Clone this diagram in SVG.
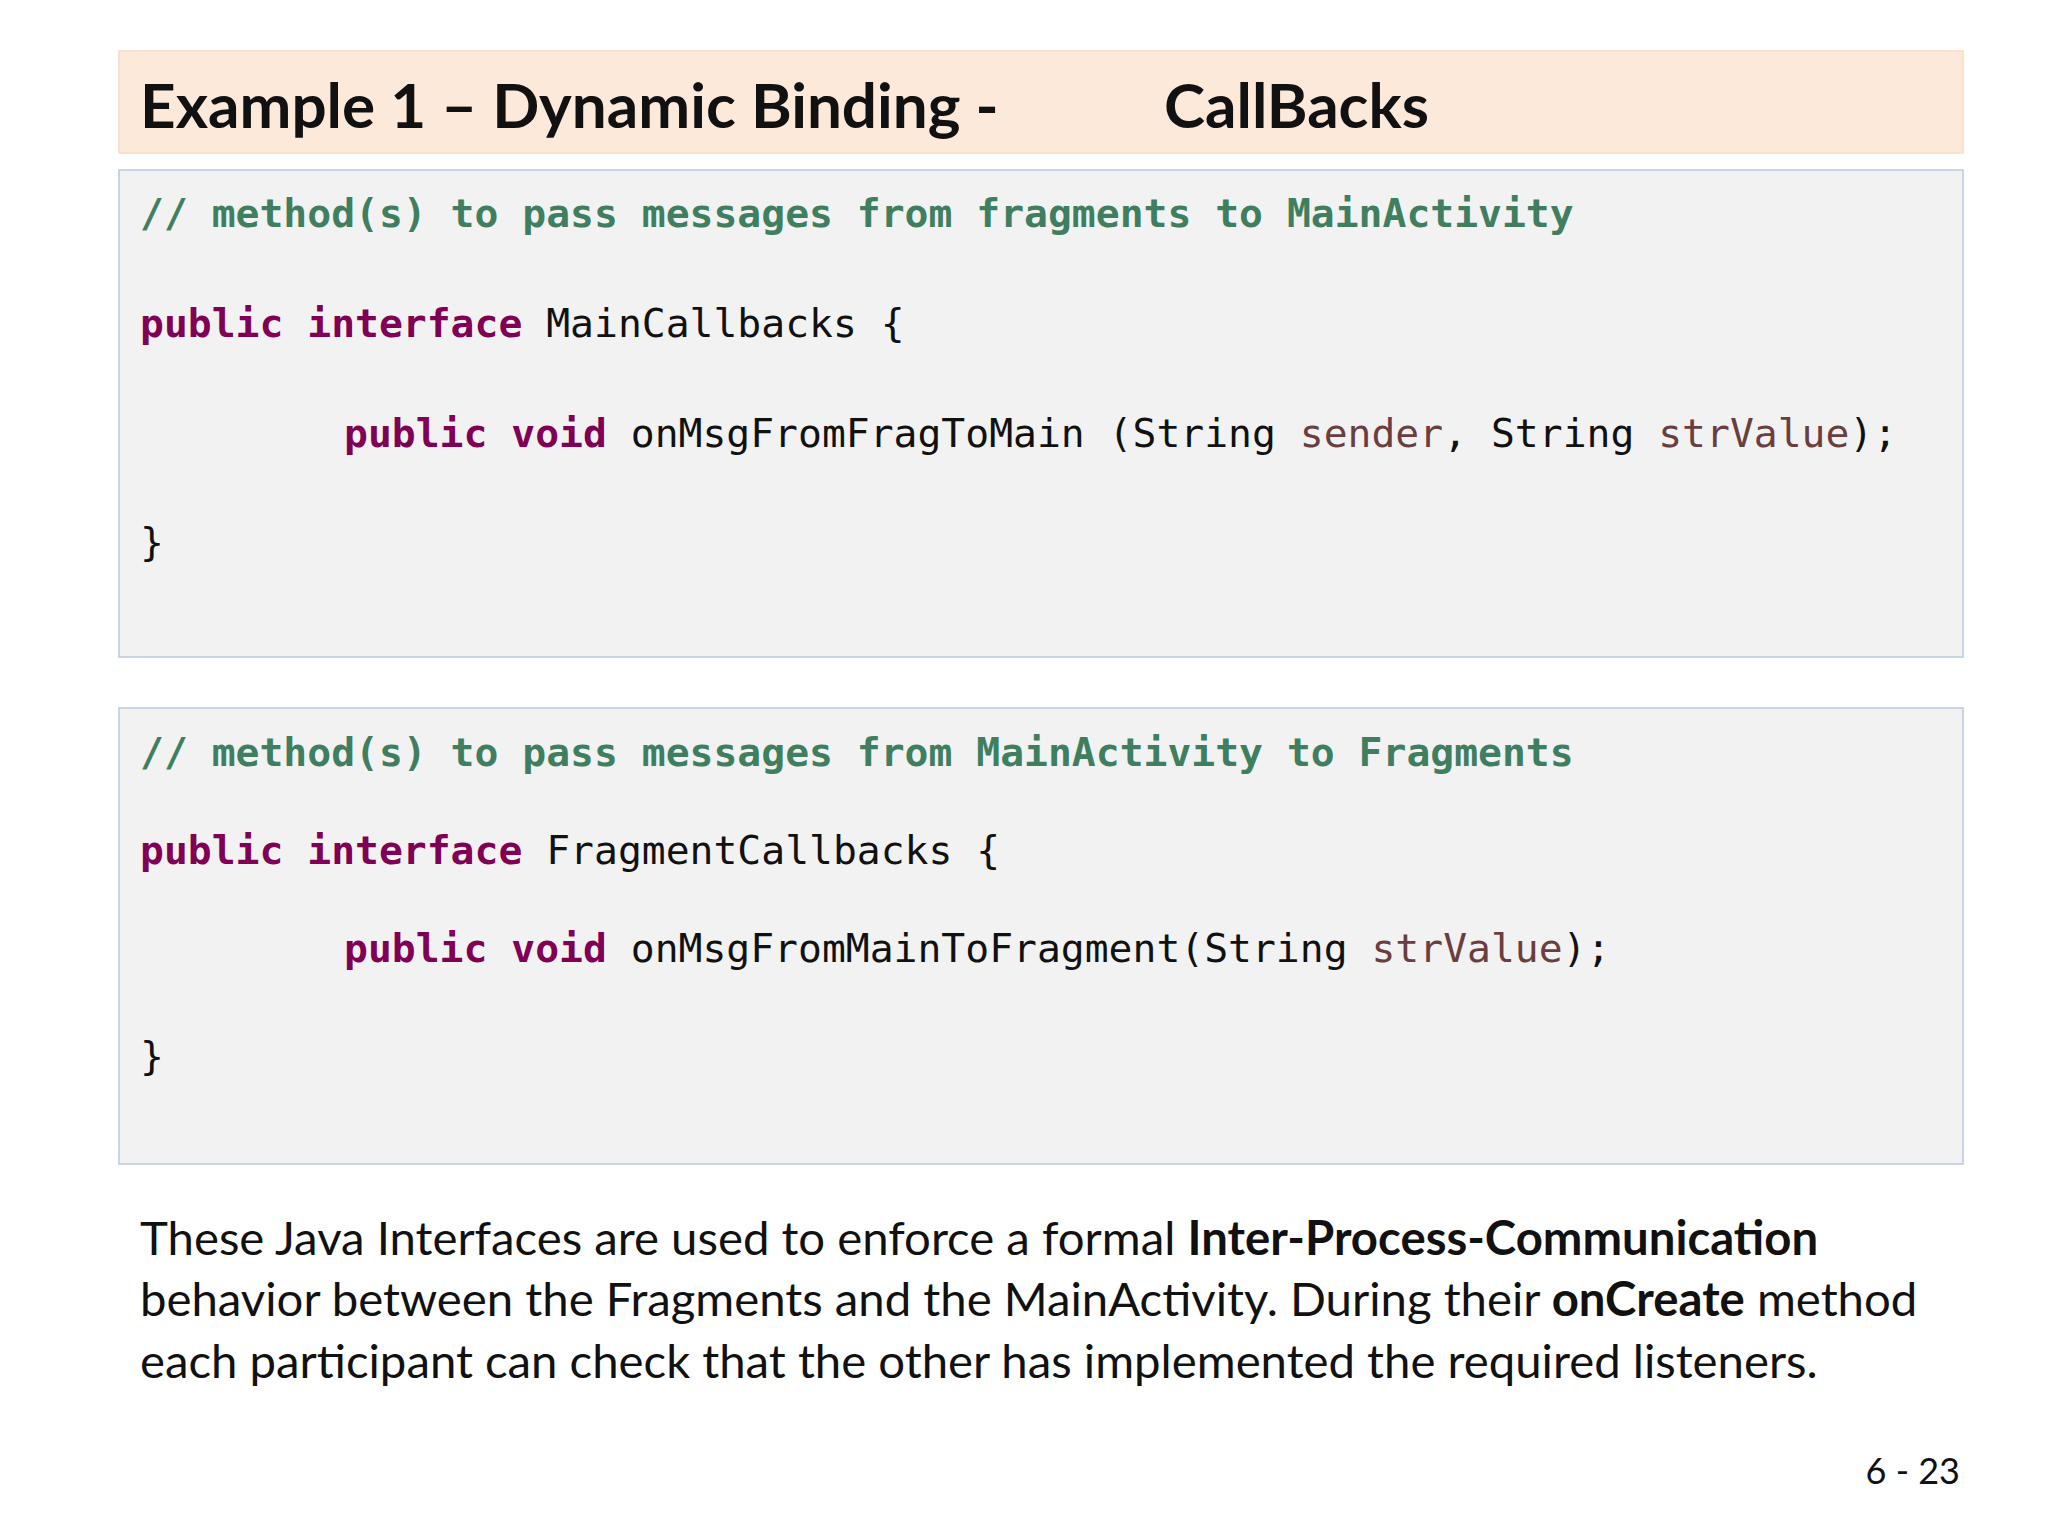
<svg xmlns="http://www.w3.org/2000/svg" width="2048" height="1536" viewBox="0 0 2048 1536">
<style>
.code{font-family:"DejaVu Sans Mono","Liberation Mono",monospace;font-size:39.7px;fill:#111}
.c{fill:#3f7f5f;font-weight:bold}
.k{fill:#7f0055;font-weight:bold}
.p{fill:#6a3e3e}
.box{fill:#f2f2f2;stroke:#b9c9dd;stroke-width:1.5}
.txt{font-family:Lato,"Liberation Sans",sans-serif;font-size:47.3px;fill:#111}
</style>
<rect width="2048" height="1536" fill="#fff"/>
<g id="title">
<rect x="119" y="51" width="1844" height="102" fill="#fde9d9" stroke="#f6dcc6" stroke-width="1.5"/>
<text x="140" y="128" font-family="Lato,'Liberation Sans',sans-serif" font-size="62" font-weight="bold" fill="#111">Example 1 – Dynamic Binding -</text>
<text x="1164" y="128" font-family="Lato,'Liberation Sans',sans-serif" font-size="62" font-weight="bold" fill="#111">CallBacks</text>
</g>
<g id="code1">
<rect class="box" x="119" y="170" width="1844" height="487"/>
<text class="code" x="140" y="227"><tspan class="c">// method(s) to pass messages from fragments to MainActivity</tspan></text>
<text class="code" x="140" y="337" xml:space="preserve"><tspan class="k">public interface</tspan> MainCallbacks {</text>
<text class="code" x="344" y="447" xml:space="preserve"><tspan class="k">public void</tspan> onMsgFromFragToMain (String <tspan class="p">sender</tspan>, String <tspan class="p">strValue</tspan>);</text>
<text class="code" x="140" y="556">}</text>
</g>
<g id="code2">
<rect class="box" x="119" y="708" width="1844" height="456"/>
<text class="code" x="140" y="766"><tspan class="c">// method(s) to pass messages from MainActivity to Fragments</tspan></text>
<text class="code" x="140" y="864" xml:space="preserve"><tspan class="k">public interface</tspan> FragmentCallbacks {</text>
<text class="code" x="344" y="962" xml:space="preserve"><tspan class="k">public void</tspan> onMsgFromMainToFragment(String <tspan class="p">strValue</tspan>);</text>
<text class="code" x="140" y="1070">}</text>
</g>
<g id="para">
<text class="txt" x="140" y="1255">These Java Interfaces are used to enforce a formal <tspan font-weight="bold">Inter-Process-Communication</tspan></text>
<text class="txt" x="140" y="1316">behavior between the Fragments and the MainActivity. During their <tspan font-weight="bold">onCreate</tspan> method</text>
<text class="txt" x="140" y="1378">each participant can check that the other has implemented the required listeners.</text>
</g>
<text x="1960" y="1484" text-anchor="end" font-family="Lato,'Liberation Sans',sans-serif" font-size="36" fill="#111">6 - 23</text>
</svg>
